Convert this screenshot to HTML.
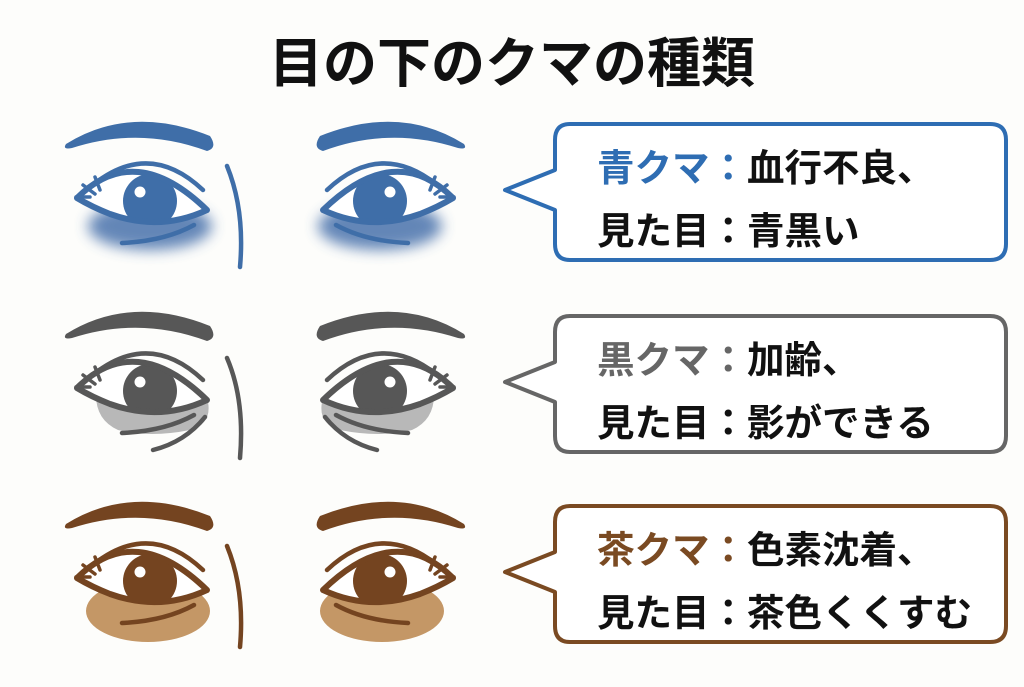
<!DOCTYPE html>
<html><head><meta charset="utf-8"><style>
html,body{margin:0;padding:0;background:#fdfdfb;}
svg{display:block}
text{font-family:"Liberation Sans","Noto Sans CJK JP",sans-serif;font-weight:bold;}
</style></head><body>
<svg width="1024" height="687" viewBox="0 0 1024 687" xmlns="http://www.w3.org/2000/svg">
<defs>
<filter id="blur" x="-50%" y="-50%" width="200%" height="200%"><feGaussianBlur stdDeviation="7"/></filter>
<clipPath id="c"><path d="M77,198 Q135,140 207,210 Q160,232 110,214 Q92,207 77,198 Z"/></clipPath>
<g id="eye">
  <path d="M66,144 Q130,104 210,136 Q218,148 207,151 Q140,126 72,148 Q62,150 66,144 Z" fill="currentColor"/>
  <path d="M77,198 Q135,140 207,210 Q160,232 110,214 Q92,207 77,198 Z" fill="#fff"/>
  <g clip-path="url(#c)">
    <circle cx="150" cy="201" r="27" fill="currentColor"/>
  </g>
  <path d="M77,198 Q135,140 207,210 Q160,232 110,214 Q92,207 77,198 Z" fill="none" stroke="currentColor" stroke-width="6" stroke-linejoin="round"/>
  <circle cx="140" cy="192" r="5.5" fill="#fff"/>
  <path d="M94,184 Q150,140 203,190" fill="none" stroke="currentColor" stroke-width="4.5" stroke-linecap="round"/>
  <path d="M95,177 L100,190 M83,185 L95,194 M76,197 L90,197" fill="none" stroke="currentColor" stroke-width="3.5" stroke-linecap="round"/>
  <path d="M122,243 Q165,241 194,225" fill="none" stroke="currentColor" stroke-width="4.5" stroke-linecap="round"/>
</g>
</defs>
<text x="512" y="82" font-size="54" text-anchor="middle" fill="#111">目の下のクマの種類</text>

<!-- Blue row -->
<g color="#3f6ea8">
  <ellipse cx="150" cy="226" rx="62" ry="24" fill="#4a72ac" opacity="0.85" filter="url(#blur)"/>
  <ellipse cx="380" cy="226" rx="62" ry="24" fill="#4a72ac" opacity="0.85" filter="url(#blur)"/>
  <use href="#eye"/>
  <use href="#eye" transform="translate(530,0) scale(-1,1)"/>
  <path d="M227,166 Q245,210 240,267" fill="none" stroke="currentColor" stroke-width="4.5" stroke-linecap="round"/>
</g>
<!-- Gray row -->
<g color="#575757" transform="translate(0,190)">
  <path d="M96,205 Q150,228 208,212 Q212,234 190,240 Q150,248 118,240 Q96,230 96,205 Z" fill="#b8b8b8"/>
  <path d="M434,205 Q380,228 322,212 Q318,234 340,240 Q380,248 412,240 Q434,230 434,205 Z" fill="#b8b8b8"/>
  <use href="#eye"/>
  <use href="#eye" transform="translate(530,0) scale(-1,1)"/>
  <path d="M153,260 Q185,252 205,227" fill="none" stroke="currentColor" stroke-width="4.5" stroke-linecap="round"/>
  <path d="M377,260 Q345,252 325,227" fill="none" stroke="currentColor" stroke-width="4.5" stroke-linecap="round"/>
  <path d="M227,168 Q245,210 240,268" fill="none" stroke="currentColor" stroke-width="4.5" stroke-linecap="round"/>
</g>
<!-- Brown row -->
<g color="#744420" transform="translate(0,380)">
  <ellipse cx="148" cy="231" rx="62" ry="31" fill="#c49766"/>
  <ellipse cx="382" cy="231" rx="62" ry="31" fill="#c49766"/>
  <use href="#eye"/>
  <use href="#eye" transform="translate(530,0) scale(-1,1)"/>
  <path d="M227,166 Q245,210 240,267" fill="none" stroke="currentColor" stroke-width="4.5" stroke-linecap="round"/>
</g>

<!-- Callouts -->
<g fill="#fff" stroke-width="4" stroke-linejoin="round">
  <path d="M570,124 H990 Q1006,124 1006,140 V244 Q1006,260 990,260 H570 Q555,260 555,244 V210 L505,190 L555,170 V140 Q555,124 570,124 Z" stroke="#2e6db3"/>
  <path d="M570,316 H990 Q1006,316 1006,332 V436 Q1006,452 990,452 H570 Q555,452 555,436 V402 L505,382 L555,362 V332 Q555,316 570,316 Z" stroke="#666"/>
  <path d="M570,506 H990 Q1006,506 1006,522 V626 Q1006,642 990,642 H570 Q555,642 555,626 V592 L505,572 L555,552 V522 Q555,506 570,506 Z" stroke="#7a4a22"/>
</g>
<g font-size="37.5" fill="#111">
  <text x="597" y="181"><tspan fill="#2e6db3">青クマ：</tspan>血行不良、</text>
  <text x="597" y="244">見た目：青黒い</text>
  <text x="597" y="373"><tspan fill="#666">黒クマ：</tspan>加齢、</text>
  <text x="597" y="436">見た目：影ができる</text>
  <text x="597" y="563"><tspan fill="#7a4a22">茶クマ：</tspan>色素沈着、</text>
  <text x="597" y="626">見た目：茶色くくすむ</text>
</g>
</svg>
</body></html>
